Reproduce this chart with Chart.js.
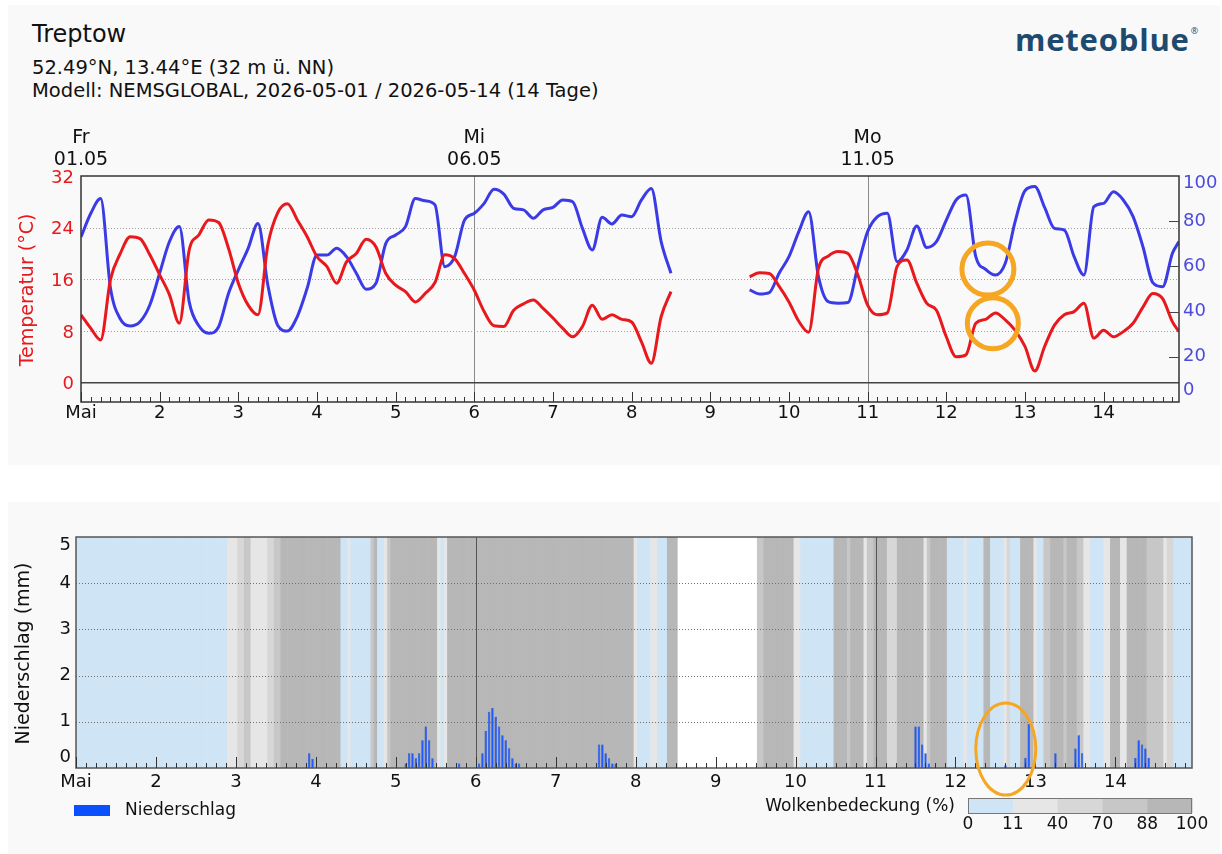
<!DOCTYPE html>
<html lang="de">
<head>
<meta charset="utf-8">
<title>Treptow – meteoblue</title>
<script src="https://cdn.jsdelivr.net/npm/chart.js@4.4.1/dist/chart.umd.min.js"></script>
<style>
  html, body { margin: 0; padding: 0; background: #fff; }
  body { width: 1222px; height: 854px; position: relative; overflow: hidden;
         font-family: 'DejaVu Sans', sans-serif; color: #111; }
  .panel { position: absolute; left: 8px; width: 1212px; background: #f9f9f9; }
  #panel-top { top: 5px; height: 460px; }
  #panel-bottom { top: 502px; height: 352px; }
  .txt { position: absolute; white-space: nowrap; line-height: 1; }
  #title { left: 32px; top: 22px; font-size: 24px; }
  #coords { left: 32px; top: 58px; font-size: 19.5px; }
  #model { left: 32px; top: 81px; font-size: 19.5px; }
  #logo { left: 1015px; top: 24px; font-family: 'Open Sans', sans-serif; font-weight: 700;
          font-size: 31px; letter-spacing: 0.8px; color: #1e4a6e; }
  #logo sup { font-size: 9px; font-weight: 400; vertical-align: 17px; margin-left: 1px; }
  canvas { position: absolute; left: 0; }
  #topChart { top: 110px; }
  #bottomChart { top: 510px; }
</style>
</head>
<body>
<div class="panel" id="panel-top"></div>
<div class="panel" id="panel-bottom"></div>
<div class="txt" id="title">Treptow</div>
<div class="txt" id="coords">52.49°N, 13.44°E (32 m ü. NN)</div>
<div class="txt" id="model">Modell: NEMSGLOBAL, 2026-05-01 / 2026-05-14 (14 Tage)</div>
<div class="txt" id="logo">meteoblue<sup>®</sup></div>
<canvas id="topChart" width="1222" height="330"></canvas>
<canvas id="bottomChart" width="1222" height="344"></canvas>
<script>
// hours since 01.05 00:00, one value every 3 hours (last one at 23:00 on 14.05)
const tempHours = Array.from({ length: 112 }, (_, i) => i * 3).concat([335]);

const temperature = [
  10.5, 8.4, 6.6, 16, 20, 22.6, 22.3, 19.8,
  16.7, 13.6, 9.2, 20.5, 22.9, 25.2, 24.8, 20.8,
  15.4, 12, 10.5, 21.3, 26.3, 27.7, 25.2, 22.6,
  19.5, 18, 15.4, 18.7, 20, 22.2, 21, 16.9,
  15.1, 14.1, 12.5, 13.8, 15.5, 19.8, 19.2, 16.9,
  14.3, 11, 8.8, 8.7, 11.2, 12.2, 12.8, 11.5,
  10, 8.4, 7.1, 8.7, 12, 9.8, 10.5, 9.8,
  9.4, 6.3, 3, 10.2, 14.1, null, null, null,
  null, null, null, null, 16.4, 17, 16.9, 14.9,
  12.5, 9.5, 7.8, 17.7, 19.6, 20.3, 20, 16.7,
  12, 10.5, 10.8, 18, 19, 15.4, 12.3, 11.2,
  7.1, 4, 4.3, 9.2, 9.8, 10.8, 9.7, 8.1,
  5.6, 1.8, 5.6, 8.9, 10.5, 11, 12.3, 6.9,
  8.1, 7.1, 7.9, 9.2, 11.7, 13.8, 13, 9.4,
  7.9
];

const humidity = [
  73, 83.5, 90, 50.3, 36.7, 33.6, 35.5, 42.9,
  57, 71, 77.6, 44.4, 33.6, 30.4, 33.3, 48,
  58.4, 68, 79, 51.8, 34, 31.4, 37.8, 50.3,
  65, 65, 68, 64.3, 57, 49.9, 52.5, 70.2,
  73.9, 77.6, 90, 89, 87.2, 59.9, 64.3, 80.5,
  83.5, 87.9, 94.1, 92, 85.7, 85, 81.3, 85,
  86.1, 89.4, 88.6, 76.8, 67.3, 81.7, 78.8, 82.7,
  82, 89.4, 94.5, 71, 57, null, null, null,
  null, null, null, null, 49.6, 47.8, 48.4, 57,
  64.3, 75.4, 84.2, 55.5, 44.4, 43.7, 44, 59.9,
  75.4, 82, 83.5, 62.1, 67.3, 77.9, 68.4, 71,
  80.5, 89.4, 91.6, 64.3, 58.7, 56.2, 61.4, 79.8,
  93.5, 95.3, 86.1, 76.8, 76.1, 64.3, 56.2, 86.4,
  87.9, 93, 89.4, 82, 68.7, 52.8, 51, 65.8,
  71
];

const tempTicks = [0, 8, 16, 24, 32];
const humidityTicks = [0, 20, 40, 60, 80, 100];
const dayLabels = ['Mai', '2', '3', '4', '5', '6', '7', '8', '9', '10', '11', '12', '13', '14'];
const headDays = [0, 5, 10];
const headWeekday = ['Fr', 'Mi', 'Mo'];
const headDate = ['01.05', '06.05', '11.05'];

// precipitation in mm per hour (hours without rain are left out)
const precipHours = [70, 71, 99, 100, 101, 102, 103, 104, 105, 106, 107, 115,
  121, 122, 123, 124, 125, 126, 127, 128, 129, 130, 131, 132, 133,
  157, 158, 159, 160, 161, 162, 252, 253, 254, 255, 256, 279, 285, 286, 294,
  300, 301, 302, 318, 319, 320, 321, 322];
const precipValues = [0.32, 0.2, 0.1, 0.32, 0.32, 0.21, 0.32, 0.6, 0.9, 0.6, 0.21, 0.1,
  0.1, 0.32, 0.8, 1.22, 1.3, 1.11, 0.9, 0.71, 0.6, 0.43, 0.21, 0.1, 0.1,
  0.51, 0.51, 0.32, 0.21, 0.1, 0.1, 0.9, 0.9, 0.51, 0.32, 0.1, 0.06, 0.22, 0.95, 0.32,
  0.42, 0.71, 0.32, 0.22, 0.6, 0.51, 0.42, 0.22];
const precipTicks = [0, 1, 2, 3, 4, 5];

// cloud cover in % per hour, one row per day
const cloudCover = [
  5, 5, 5, 5, 5, 5, 5, 5, 5, 5, 5, 5, 5, 5, 5, 5, 5, 5, 5, 5, 5, 5, 5, 5,
  5, 5, 5, 5, 5, 5, 5, 5, 5, 5, 5, 5, 5, 5, 5, 5, 5, 5, 5, 5, 5, 5, 25, 25,
  25, 55, 55, 80, 80, 25, 25, 25, 25, 25, 55, 55, 80, 80, 95, 95, 95, 95, 95, 95, 95, 95, 95, 95,
  95, 95, 95, 95, 95, 95, 95, 95, 5, 5, 25, 5, 5, 5, 5, 5, 5, 80, 95, 5, 5, 25, 80, 95,
  95, 95, 95, 95, 95, 95, 95, 95, 95, 95, 95, 95, 95, 25, 5, 25, 95, 95, 95, 95, 95, 95, 95, 95,
  95, 95, 95, 95, 95, 95, 95, 95, 95, 95, 95, 95, 95, 95, 95, 95, 95, 95, 95, 95, 95, 95, 95, 95,
  95, 95, 95, 95, 95, 95, 95, 95, 95, 95, 95, 95, 95, 95, 95, 95, 95, 95, 95, 95, 95, 95, 95, 95,
  25, 5, 5, 5, 5, 25, 25, 5, 5, 5, 95, 95, 95, null, null, null, null, null, null, null, null, null, null, null,
  null, null, null, null, null, null, null, null, null, null, null, null, null, 80, 80, 95, 95, 95, 95, 95, 95, 95, 95, 95,
  25, 25, 5, 5, 5, 5, 5, 5, 5, 5, 5, 5, 95, 95, 95, 95, 80, 95, 95, 95, 95, 25, 80, 80,
  95, 95, 95, 95, 55, 55, 55, 95, 95, 95, 95, 95, 95, 95, 95, 25, 80, 95, 95, 95, 95, 95, 5, 5,
  5, 5, 5, 25, 5, 5, 5, 5, 5, 95, 95, 5, 5, 5, 5, 25, 55, 5, 5, 5, 95, 95, 95, 95,
  25, 5, 5, 80, 80, 95, 95, 95, 95, 80, 95, 95, 95, 80, 80, 25, 25, 5, 5, 5, 5, 25, 25, 95,
  95, 95, 25, 25, 95, 95, 95, 95, 95, 95, 80, 80, 80, 80, 80, 25, 55, 55, 5, 5, 5, 5, 5, 5
];
const cloudBounds = [0, 11, 40, 70, 88, 100];
const cloudColors = ['#cfe5f5', '#e6e6e6', '#d7d7d7', '#c7c7c7', '#b7b7b7'];

// hand-drawn marks in the picture (hour, value on the named axis, radius in px)
const topMarks = [
  { h: 276.7, axis: 'yH', v: 58.8, r: 26 },
  { h: 278.2, axis: 'yT', v: 9.2, r: 25.5 }
];
const bottomMark = { h: 279.1, v: 0.41, rx: 30, ry: 46 };

const RED = '#e8181c';
const BLUE = '#3a3ae6';
const ORANGE = '#f5a623';
const FONT = '"DejaVu Sans", sans-serif';

Chart.defaults.font.family = FONT;

function line(ctx, x1, y1, x2, y2) {
  ctx.beginPath(); ctx.moveTo(x1, y1); ctx.lineTo(x2, y2); ctx.stroke();
}

function text(ctx, str, x, y, size, color, align) {
  ctx.font = size + 'px ' + FONT;
  ctx.fillStyle = color;
  ctx.textAlign = align || 'center';
  ctx.textBaseline = 'middle';
  ctx.fillText(str, x, y);
}

function vText(ctx, str, x, y, size, color) {
  ctx.save();
  ctx.translate(x, y);
  ctx.rotate(-Math.PI / 2);
  text(ctx, str, 0, 0, size, color, 'center');
  ctx.restore();
}

function hourTicks(chart, minorLen, majorLen) {
  const { ctx, chartArea: a } = chart;
  const x = chart.scales.x;
  ctx.strokeStyle = '#333';
  ctx.lineWidth = 1;
  ctx.beginPath();
  for (let h = 0; h <= x.max; h += 3) {
    const xp = Math.round(x.getPixelForValue(h)) + 0.5;
    ctx.moveTo(xp, a.bottom);
    ctx.lineTo(xp, a.bottom - (h % 24 === 0 ? majorLen : minorLen));
  }
  ctx.stroke();
}

function dayAxisLabels(chart, y) {
  const x = chart.scales.x;
  dayLabels.forEach((lab, d) => text(chart.ctx, lab, x.getPixelForValue(d * 24), y, 18, '#111'));
}

function cloudColor(c) {
  for (let i = 1; i < cloudBounds.length; i++) {
    if (c <= cloudBounds[i]) return cloudColors[i - 1];
  }
  return cloudColors[cloudColors.length - 1];
}

const topDecor = {
  id: 'topDecor',
  beforeDatasetsDraw(chart) {
    const { ctx, chartArea: a } = chart;
    const { x, yT } = chart.scales;
    ctx.save();
    ctx.strokeStyle = '#a0a0a0';
    ctx.lineWidth = 1;
    ctx.setLineDash([1, 2]);
    tempTicks.filter(v => v > 0 && v < yT.max).forEach(v => {
      const y = Math.round(yT.getPixelForValue(v)) + 0.5;
      line(ctx, a.left, y, a.right, y);
    });
    ctx.setLineDash([]);
    ctx.strokeStyle = '#8a8a8a';
    headDays.slice(1).forEach(d => {
      const xp = Math.round(x.getPixelForValue(d * 24)) + 0.5;
      line(ctx, xp, a.top, xp, a.bottom);
    });
    ctx.strokeStyle = '#444';
    ctx.lineWidth = 1.5;
    const y0 = yT.getPixelForValue(0);
    line(ctx, a.left, y0, a.right, y0);
    ctx.restore();
  },
  afterDatasetsDraw(chart) {
    const { ctx, chartArea: a } = chart;
    const { x, yT, yH } = chart.scales;
    ctx.save();
    ctx.strokeStyle = '#333';
    ctx.lineWidth = 1.5;
    ctx.strokeRect(a.left, a.top, a.right - a.left, a.bottom - a.top);
    hourTicks(chart, 5, 10);
    // right axis tick marks
    ctx.strokeStyle = '#444';
    ctx.lineWidth = 1;
    humidityTicks.filter(v => v > 0 && v < 100).forEach(v => {
      const y = Math.round(yH.getPixelForValue(v)) + 0.5;
      line(ctx, a.right - 10, y, a.right, y);
    });
    // tick labels
    tempTicks.forEach(v => text(ctx, String(v), a.left - 7, yT.getPixelForValue(v) + 2, 18, RED, 'right'));
    humidityTicks.forEach(v => {
      const y = Math.min(Math.max(yH.getPixelForValue(v), a.top + 7), a.bottom - 12);
      text(ctx, String(v), a.right + 4, y, 18, '#4b4bdc', 'left');
    });
    dayAxisLabels(chart, a.bottom + 11);
    headDays.forEach((d, i) => {
      const xp = x.getPixelForValue(d * 24);
      text(ctx, headWeekday[i], xp, a.top - 38, 19, '#111');
      text(ctx, headDate[i], xp, a.top - 16, 19, '#111');
    });
    vText(ctx, 'Temperatur (°C)', 28, (a.top + a.bottom) / 2 + 1, 19, RED);
    // orange marks
    ctx.strokeStyle = ORANGE;
    ctx.lineWidth = 5;
    topMarks.forEach(m => {
      ctx.beginPath();
      ctx.arc(x.getPixelForValue(m.h), chart.scales[m.axis].getPixelForValue(m.v), m.r, 0, Math.PI * 2);
      ctx.stroke();
    });
    ctx.restore();
  }
};

const bottomDecor = {
  id: 'bottomDecor',
  beforeDatasetsDraw(chart) {
    const { ctx, chartArea: a } = chart;
    ctx.save();
    ctx.fillStyle = '#ffffff';
    ctx.fillRect(a.left, a.top, a.right - a.left, a.bottom - a.top);
    ctx.restore();
  },
  afterDatasetsDraw(chart) {
    const { ctx, chartArea: a } = chart;
    const { x, y } = chart.scales;
    ctx.save();
    ctx.strokeStyle = '#707070';
    ctx.lineWidth = 1;
    ctx.setLineDash([1, 2]);
    precipTicks.filter(v => v > 0 && v < y.max).forEach(v => {
      const yp = Math.round(y.getPixelForValue(v)) + 0.5;
      line(ctx, a.left, yp, a.right, yp);
    });
    ctx.setLineDash([]);
    ctx.strokeStyle = '#555';
    headDays.slice(1).forEach(d => {
      const xp = Math.round(x.getPixelForValue(d * 24)) + 0.5;
      line(ctx, xp, a.top, xp, a.bottom);
    });
    ctx.strokeStyle = '#555';
    ctx.lineWidth = 1.5;
    ctx.strokeRect(a.left, a.top, a.right - a.left, a.bottom - a.top);
    hourTicks(chart, 5, 11);
    precipTicks.forEach(v => {
      const yp = Math.min(Math.max(y.getPixelForValue(v), a.top + 8), a.bottom - 11);
      text(ctx, String(v), a.left - 5, yp, 18, '#111', 'right');
    });
    dayAxisLabels(chart, a.bottom + 14);
    vText(ctx, 'Niederschlag (mm)', 24, (a.top + a.bottom) / 2 + 1, 19, '#111');

    // legend: precipitation
    ctx.fillStyle = '#0a50ff';
    ctx.fillRect(74, a.bottom + 37, 36, 11);
    text(ctx, 'Niederschlag', 125, a.bottom + 43, 17, '#111', 'left');

    // legend: cloud cover colour bar
    const barW = 224, barH = 15;
    const bx = a.right - barW, by = a.bottom + 30;
    const seg = barW / cloudColors.length;
    cloudColors.forEach((c, i) => {
      ctx.fillStyle = c;
      ctx.fillRect(bx + i * seg, by, seg + 0.5, barH);
    });
    ctx.strokeStyle = '#777';
    ctx.lineWidth = 1;
    ctx.strokeRect(bx + 0.5, by + 0.5, barW - 1, barH);
    cloudBounds.forEach((b, i) => text(ctx, String(b), bx + i * seg, a.bottom + 57, 17, '#111'));
    text(ctx, 'Wolkenbedeckung (%)', bx - 13, a.bottom + 39, 17, '#111', 'right');

    // orange mark
    ctx.strokeStyle = ORANGE;
    ctx.lineWidth = 3;
    ctx.beginPath();
    ctx.ellipse(x.getPixelForValue(bottomMark.h), y.getPixelForValue(bottomMark.v),
      bottomMark.rx, bottomMark.ry, 0, 0, Math.PI * 2);
    ctx.stroke();
    ctx.restore();
  }
};

const common = {
  responsive: false,
  animation: false,
  events: [],
  plugins: { legend: { display: false }, tooltip: { enabled: false } }
};

new Chart(document.getElementById('topChart'), {
  type: 'line',
  data: {
    datasets: [
      {
        label: 'Temperatur',
        data: tempHours.map((h, i) => ({ x: h, y: temperature[i] })),
        yAxisID: 'yT',
        borderColor: RED,
        borderWidth: 3,
        pointRadius: 0,
        cubicInterpolationMode: 'monotone',
        spanGaps: false
      },
      {
        label: 'Relative Luftfeuchtigkeit',
        data: tempHours.map((h, i) => ({ x: h, y: humidity[i] })),
        yAxisID: 'yH',
        borderColor: BLUE,
        borderWidth: 3,
        pointRadius: 0,
        cubicInterpolationMode: 'monotone',
        spanGaps: false
      }
    ]
  },
  options: {
    ...common,
    layout: { padding: { left: 81, right: 43, top: 66, bottom: 38 } },
    scales: {
      x: { type: 'linear', min: 0, max: 335, display: false },
      yT: { type: 'linear', min: -3, max: 32, display: false },
      yH: { type: 'linear', min: 0, max: 100, display: false }
    }
  },
  plugins: [topDecor]
});

new Chart(document.getElementById('bottomChart'), {
  type: 'bar',
  data: {
    datasets: [
      {
        label: 'Niederschlag',
        data: precipHours.map((h, i) => ({ x: h, y: precipValues[i] })),
        backgroundColor: '#1f5cff',
        borderColor: '#0b3bd6',
        borderWidth: 0.5,
        barPercentage: 0.72,
        categoryPercentage: 1,
        grouped: false,
        order: 0
      },
      {
        label: 'Wolkenbedeckung',
        data: cloudCover.map((c, h) => ({ x: h, y: c === null ? null : 5 })),
        backgroundColor: ctx => cloudColor(cloudCover[ctx.dataIndex]),
        borderWidth: 0,
        barPercentage: 1,
        categoryPercentage: 1,
        grouped: false,
        order: 1
      }
    ]
  },
  options: {
    ...common,
    layout: { padding: { left: 76, right: 30, top: 27, bottom: 86 } },
    scales: {
      x: { type: 'linear', min: 0, max: 335, offset: false, display: false },
      y: { type: 'linear', min: 0, max: 5, display: false }
    }
  },
  plugins: [bottomDecor]
});
</script>
</body>
</html>
